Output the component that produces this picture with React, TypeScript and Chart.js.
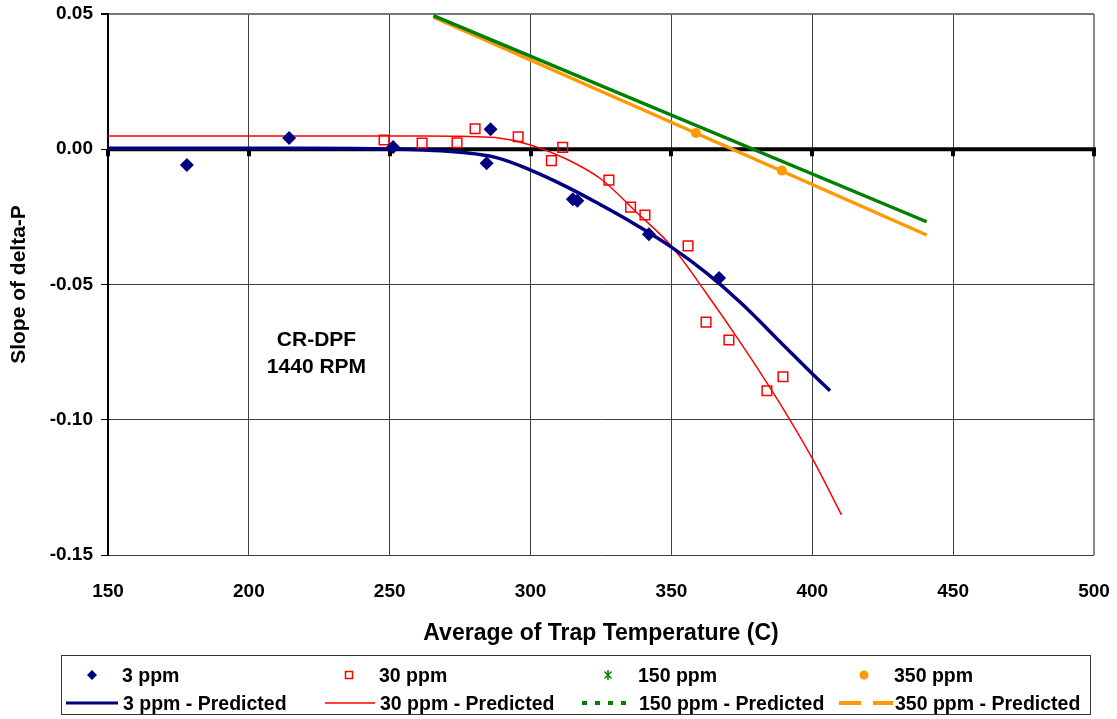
import React, { useEffect, useRef } from 'react';
import { Chart, registerables } from 'chart.js';

Chart.register(...registerables);

// ---------- data ----------
const xTickValues = [150, 200, 250, 300, 350, 400, 450, 500];
const yTickValues = [-0.15, -0.1, -0.05, 0, 0.05];

const temp3 = [178.0, 214.3, 251.2, 285.8, 284.4, 315.0, 316.6, 342.0, 366.9];
const slope3 = [-0.0058, 0.0042, 0.0008, 0.0074, -0.0052, -0.0185, -0.019, -0.0314, -0.0476];

const temp30 = [248.0, 261.5, 273.9, 280.3, 295.6, 307.4, 311.4, 327.8, 335.5, 340.6, 355.9, 362.3, 370.4, 383.9, 389.6];
const slope30 = [0.0034, 0.0023, 0.0024, 0.0076, 0.0046, -0.0042, 0.0007, -0.0114, -0.0214, -0.0243, -0.0357, -0.0639, -0.0705, -0.0893, -0.0841];

const temp150: number[] = [];
const slope150: number[] = [];

const temp350 = [358.7, 389.2];
const slope350 = [0.006, -0.0079];

const predTemp3 = [150, 200, 237.5, 250, 262.5, 275, 287.5, 300, 312.5, 325, 337.5, 350, 362.5, 375, 387.5, 400, 406.3];
const predSlope3 = [0.0004, 0.0004, 0.0003, 0.0001, -0.0003, -0.0011, -0.003, -0.0077, -0.0137, -0.0206, -0.028, -0.0362, -0.0458, -0.0571, -0.0701, -0.083, -0.0893];

const predTemp30 = [150, 250, 262.5, 275, 287.5, 300, 312.5, 325, 337.5, 350, 362.5, 375, 387.5, 400, 410.4];
const predSlope30 = [0.0049, 0.0049, 0.0049, 0.0048, 0.0043, 0.0016, -0.0035, -0.011, -0.0232, -0.0358, -0.0534, -0.0722, -0.0923, -0.1143, -0.1352];

const predTemp150 = [265.5, 440.6];
const predSlope150 = [0.0494, -0.0268];

const predTemp350 = [265.5, 440.6];
const predSlope350 = [0.0488, -0.0317];

const annotationLines = ['CR-DPF', '1440 RPM'];
const annotationX = 224;
const annotationY = -0.0705;

const xTitle = 'Average of Trap Temperature (C)';
const yTitle = 'Slope of delta-P';

// ---------- styles ----------
const FONT = "'Liberation Sans', Arial, Helvetica, sans-serif";
const NAVY = '#000080';
const RED = '#FF0000';
const GREEN = '#008000';
const ORANGE = '#FF9900';

const zip = (xs: number[], ys: number[]) => xs.map((x, i) => ({ x, y: ys[i] }));

const overlayPlugin = {
  id: 'overlay',
  beforeDatasetsDraw(chart: any) {
    const { ctx, chartArea, scales } = chart;
    const xs = scales.x;
    const ys = scales.y;
    const y0 = ys.getPixelForValue(0);
    ctx.save();
    ctx.fillStyle = '#000';
    ctx.fillRect(chartArea.left, y0 - 2, chartArea.right - chartArea.left + 2, 4);
    for (const v of xTickValues) {
      const px = xs.getPixelForValue(v);
      ctx.fillRect(Math.round(px) - 2, y0, 4, 7);
    }
    ctx.font = `bold 21px ${FONT}`;
    ctx.textAlign = 'center';
    ctx.textBaseline = 'middle';
    const ax = xs.getPixelForValue(annotationX);
    const ay = ys.getPixelForValue(annotationY);
    annotationLines.forEach((t, i) => ctx.fillText(t, ax, ay + i * 27));
    ctx.restore();
  },
};

type LegendItem = { label: string; kind: string; color: string };
const legendRow1: LegendItem[] = [
  { label: '3 ppm', kind: 'diamond', color: NAVY },
  { label: '30 ppm', kind: 'square', color: RED },
  { label: '150 ppm', kind: 'star', color: GREEN },
  { label: '350 ppm', kind: 'circle', color: ORANGE },
];
const legendRow2: LegendItem[] = [
  { label: '3 ppm - Predicted', kind: 'solid3', color: NAVY },
  { label: '30 ppm - Predicted', kind: 'solid1', color: RED },
  { label: '150 ppm - Predicted', kind: 'dotted', color: GREEN },
  { label: '350 ppm - Predicted', kind: 'dashed', color: ORANGE },
];
const colTextLeft = [122, 379, 638, 894];
const colLineStart = [66, 325, 582, 839];
const colLineEnd = [118, 375, 627, 893];
const rowCenter = [675, 703];

function Icon({ kind, color, col, row }: { kind: string; color: string; col: number; row: number }) {
  const cy = rowCenter[row];
  if (row === 0) {
    const cx = colTextLeft[col] - 30;
    let shape: any = null;
    if (kind === 'diamond') shape = <polygon points="5,0 10,5 5,10 0,5" fill={color} />;
    if (kind === 'square') shape = <rect x="1.5" y="1.5" width="7" height="7" fill="#fff" stroke={color} strokeWidth="1.5" />;
    if (kind === 'star')
      shape = (
        <g stroke={color} strokeWidth="1.5">
          <line x1="1.5" y1="1.5" x2="8.5" y2="8.5" />
          <line x1="8.5" y1="1.5" x2="1.5" y2="8.5" />
          <line x1="5" y1="0" x2="5" y2="10" />
        </g>
      );
    if (kind === 'circle') shape = <circle cx="5" cy="5" r="4.5" fill={color} />;
    return (
      <svg width="10" height="10" style={{ position: 'absolute', left: cx - 5, top: cy - 5 }}>
        {shape}
      </svg>
    );
  }
  const x1 = colLineStart[col];
  const x2 = colLineEnd[col];
  const w = x2 - x1;
  let line: any = null;
  if (kind === 'solid3') line = <line x1="0" y1="5" x2={w} y2="5" stroke={color} strokeWidth="3" />;
  if (kind === 'solid1') line = <line x1="0" y1="5" x2={w} y2="5" stroke={color} strokeWidth="1.5" />;
  if (kind === 'dotted') line = <line x1="0" y1="5" x2={w} y2="5" stroke={color} strokeWidth="4" strokeDasharray="5 8" />;
  if (kind === 'dashed') line = <line x1="0" y1="5" x2={w} y2="5" stroke={color} strokeWidth="4" strokeDasharray="22 12" />;
  return (
    <svg width={w} height="10" style={{ position: 'absolute', left: x1, top: cy - 5 }}>
      {line}
    </svg>
  );
}

export default function App() {
  const canvasRef = useRef<HTMLCanvasElement | null>(null);

  useEffect(() => {
    const canvas = canvasRef.current;
    if (!canvas) return;
    const chart = new Chart(canvas, {
      type: 'scatter',
      data: {
        datasets: [
          {
            label: '3 ppm',
            data: zip(temp3, slope3),
            showLine: false,
            pointStyle: 'rectRot',
            pointRadius: 7,
            backgroundColor: NAVY,
            borderColor: NAVY,
            borderWidth: 0,
          },
          {
            label: '30 ppm',
            data: zip(temp30, slope30),
            showLine: false,
            pointStyle: 'rect',
            pointRadius: 6.8,
            backgroundColor: 'rgba(255,255,255,0)',
            borderColor: RED,
            borderWidth: 1.5,
          },
          {
            label: '150 ppm',
            data: zip(temp150, slope150),
            showLine: false,
            pointStyle: 'star',
            pointRadius: 5,
            borderColor: GREEN,
            backgroundColor: GREEN,
          },
          {
            label: '350 ppm',
            data: zip(temp350, slope350),
            showLine: false,
            pointStyle: 'circle',
            pointRadius: 5,
            backgroundColor: ORANGE,
            borderColor: ORANGE,
            borderWidth: 0,
          },
          {
            label: '3 ppm - Predicted',
            data: zip(predTemp3, predSlope3),
            showLine: true,
            pointRadius: 0,
            borderColor: NAVY,
            borderWidth: 3.5,
            tension: 0.4,
          },
          {
            label: '30 ppm - Predicted',
            data: zip(predTemp30, predSlope30),
            showLine: true,
            pointRadius: 0,
            borderColor: RED,
            borderWidth: 1.5,
            cubicInterpolationMode: 'monotone',
          },
          {
            label: '150 ppm - Predicted',
            data: zip(predTemp150, predSlope150),
            showLine: true,
            pointRadius: 0,
            borderColor: GREEN,
            borderWidth: 3.5,
          },
          {
            label: '350 ppm - Predicted',
            data: zip(predTemp350, predSlope350),
            showLine: true,
            pointRadius: 0,
            borderColor: ORANGE,
            borderWidth: 3.5,
          },
        ] as any,
      },
      options: {
        animation: false,
        responsive: false,
        maintainAspectRatio: false,
        devicePixelRatio: 1,
        layout: { padding: { top: 14, right: 23, left: 0, bottom: 0 } },
        plugins: {
          legend: { display: false },
          tooltip: { enabled: false },
        },
        scales: {
          x: {
            type: 'linear',
            min: 150,
            max: 500,
            afterBuildTicks: (s: any) => {
              s.ticks = xTickValues.map((v) => ({ value: v }));
            },
            afterFit: (s: any) => {
              s.height = 164;
              s.paddingLeft = 0;
              s.paddingRight = 0;
              s.paddingTop = 0;
              s.paddingBottom = 0;
            },
            ticks: {
              color: '#000',
              font: { family: FONT, size: 19, weight: 'bold' },
              padding: 25,
              maxRotation: 0,
              callback: (v: any) => String(v),
            },
            grid: {
              drawTicks: false,
              color: (c: any) => (c.tick && c.tick.value === 500 ? '#888' : '#404040'),
              lineWidth: (c: any) => (c.tick && c.tick.value === 500 ? 2 : 1),
            },
            border: { display: false },
            title: {
              display: true,
              text: xTitle,
              color: '#000',
              font: { family: FONT, size: 23, weight: 'bold' },
              padding: { top: 0, bottom: 72 },
            },
          },
          y: {
            type: 'linear',
            min: -0.15,
            max: 0.05,
            afterBuildTicks: (s: any) => {
              s.ticks = yTickValues.map((v) => ({ value: v }));
            },
            afterFit: (s: any) => {
              s.width = 108;
              s.paddingLeft = 0;
              s.paddingRight = 0;
              s.paddingTop = 0;
              s.paddingBottom = 0;
            },
            ticks: {
              color: '#000',
              font: { family: FONT, size: 19, weight: 'bold' },
              padding: 8,
              callback: (v: any) => (Math.abs(Number(v)) < 1e-9 ? '0.00' : Number(v).toFixed(2)),
            },
            grid: {
              drawTicks: true,
              tickLength: 7,
              tickColor: '#000',
              color: (c: any) => (c.tick && Math.abs(c.tick.value - 0.05) < 1e-9 ? '#777' : '#404040'),
              lineWidth: (c: any) => (c.tick && Math.abs(c.tick.value - 0.05) < 1e-9 ? 2 : 1),
            },
            border: { display: true, color: '#000', width: 2 },
            title: {
              display: true,
              text: yTitle,
              color: '#000',
              font: { family: FONT, size: 21, weight: 'bold' },
              padding: { top: 7, bottom: 0 },
            },
          },
        },
      } as any,
      plugins: [overlayPlugin],
    });
    return () => chart.destroy();
  }, []);

  return (
    <div style={{ position: 'absolute', left: 0, top: 0, width: 1117, height: 719, background: '#fff', overflow: 'hidden' }}>
      <canvas ref={canvasRef} width={1117} height={719} style={{ position: 'absolute', left: 0, top: 0, width: 1117, height: 719 }} />
      <div
        style={{
          position: 'absolute',
          left: 61,
          top: 655,
          width: 1030,
          height: 60,
          border: '1px solid #333',
          boxSizing: 'border-box',
        }}
      />
      {[legendRow1, legendRow2].map((row, r) =>
        row.map((it, c) => (
          <React.Fragment key={`${r}-${c}`}>
            <Icon kind={it.kind} color={it.color} col={c} row={r} />
            <div
              style={{
                position: 'absolute',
                left: colTextLeft[c] + (r === 1 ? 1 : 0),
                top: rowCenter[r] - 12,
                height: 24,
                lineHeight: '24px',
                fontFamily: FONT,
                fontWeight: 'bold',
                fontSize: 19.5,
                color: '#000',
                whiteSpace: 'nowrap',
              }}
            >
              {it.label}
            </div>
          </React.Fragment>
        ))
      )}
    </div>
  );
}
